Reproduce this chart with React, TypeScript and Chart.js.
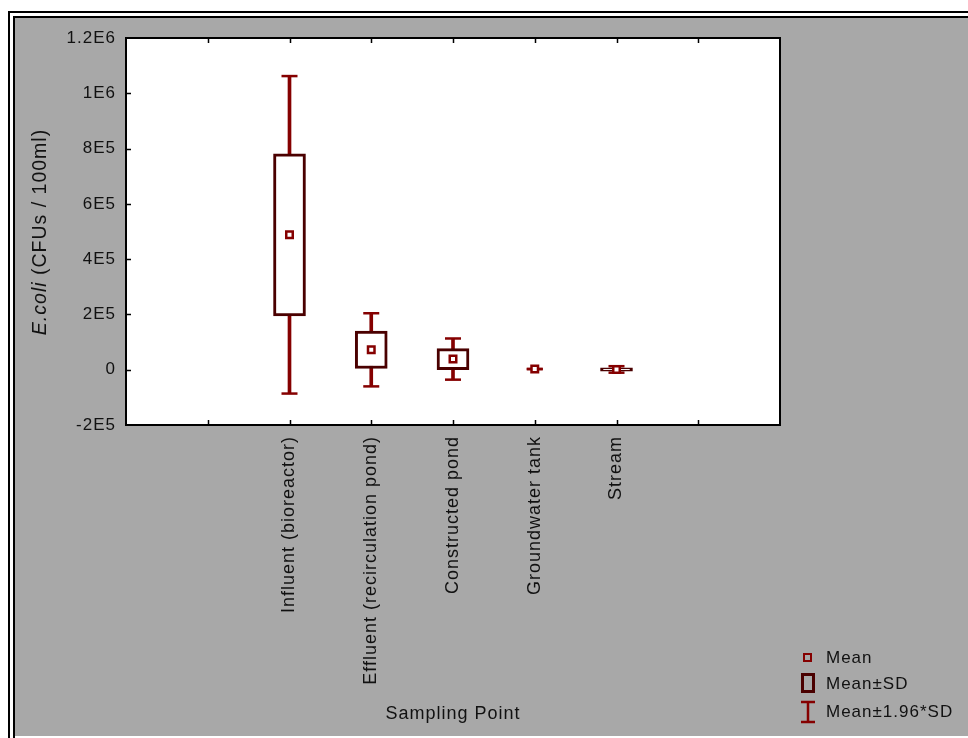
import { useEffect, useRef } from "react";
import { Chart, registerables } from "chart.js";

Chart.register(...registerables);

// Sampling sites along the treatment chain and their slot on the x axis
const sites = [
  "Influent (bioreactor)",
  "Effluent (recirculation pond)",
  "Constructed pond",
  "Groundwater tank",
  "Stream",
];
const sitePositions = [2, 3, 4, 5, 6];

// E. coli counts (CFUs / 100 ml): mean and standard deviation per site
const means = [488000, 72000, 38500, 2500, 1000];
const sds = [293000, 67500, 38000, 0, 6000];

const yTickLabels = ["-2E5", "0", "2E5", "4E5", "6E5", "8E5", "1E6", "1.2E6"];
const legendLabels = ["Mean", "Mean\u00b1SD", "Mean\u00b11.96*SD"];
const xTitle = "Sampling Point";
const yTitleItalic = "E.coli";
const yTitleRest = " (CFUs / 100ml)";

const FONT = "Arial, 'Liberation Sans', sans-serif";
const FONT_SIZE = 17;
const LABEL_SIZE = 18;
const Y_TITLE_SIZE = 19.5;
const SPACING = "1px";
const TEXT = "#111111";
const RED = "#850000";
const DARK = "#4a0000";
const PANEL = "#a8a8a8";

const meanPoints = sitePositions.map((x, i) => ({ x, y: means[i] }));
const sdBoxes = sitePositions.map((x, i) => ({ x, y: [means[i] - sds[i], means[i] + sds[i]] }));
const whiskers = sitePositions.map((x, i) => ({
  x,
  y: [means[i] - 1.96 * sds[i], means[i] + 1.96 * sds[i]],
}));
const caps = [
  ...sitePositions.map((x, i) => ({ x, y: means[i] + 1.96 * sds[i] })),
  ...sitePositions.map((x, i) => ({ x, y: means[i] - 1.96 * sds[i] })),
];

const spacingPlugin = {
  id: "letterSpacing",
  beforeUpdate(chart: any) {
    chart.ctx.letterSpacing = SPACING;
  },
  beforeDraw(chart: any) {
    chart.ctx.letterSpacing = SPACING;
  },
};

const framePlugin = {
  id: "statFrame",
  beforeDraw(chart: any) {
    const { ctx, width, height, chartArea } = chart;
    ctx.save();
    ctx.fillStyle = "#ffffff";
    ctx.fillRect(0, 0, width, height);
    // double outer border
    ctx.fillStyle = "#000000";
    ctx.fillRect(8, 11, width - 8, 2);
    ctx.fillRect(8, 11, 2, height - 11);
    ctx.fillRect(13, 16, width - 13, 2);
    ctx.fillRect(13, 16, 2, height - 16);
    // grey panel
    ctx.fillStyle = PANEL;
    ctx.fillRect(15, 18, width - 15, 718);
    // plot area
    ctx.fillStyle = "#ffffff";
    ctx.fillRect(chartArea.left, chartArea.top, chartArea.right - chartArea.left, chartArea.bottom - chartArea.top);
    ctx.restore();
  },
  afterDraw(chart: any) {
    const { ctx, chartArea } = chart;
    const xs = chart.scales.x;
    const ys = chart.scales.y;
    ctx.save();
    ctx.letterSpacing = SPACING;
    // plot frame
    ctx.strokeStyle = "#000000";
    ctx.lineWidth = 2;
    ctx.strokeRect(chartArea.left, chartArea.top, chartArea.right - chartArea.left, chartArea.bottom - chartArea.top);
    // inward tick marks
    ctx.lineWidth = 1.5;
    ctx.beginPath();
    for (let v = 1; v <= 7; v++) {
      const px = Math.round(xs.getPixelForValue(v)) + 0.5;
      ctx.moveTo(px, chartArea.bottom);
      ctx.lineTo(px, chartArea.bottom - 5);
      ctx.moveTo(px, chartArea.top);
      ctx.lineTo(px, chartArea.top + 5);
    }
    for (let k = 1; k < yTickLabels.length - 1; k++) {
      const py = Math.round(ys.getPixelForValue(-200000 + k * 200000)) + 0.5;
      ctx.moveTo(chartArea.left, py);
      ctx.lineTo(chartArea.left + 5, py);
    }
    ctx.stroke();

    // y axis title with italic organism name
    ctx.fillStyle = TEXT;
    ctx.textBaseline = "middle";
    ctx.textAlign = "left";
    const italic = `italic ${Y_TITLE_SIZE}px ${FONT}`;
    const titleFont = `${Y_TITLE_SIZE}px ${FONT}`;
    ctx.font = italic;
    const w1 = ctx.measureText(yTitleItalic).width;
    ctx.font = titleFont;
    const w2 = ctx.measureText(yTitleRest).width;
    ctx.save();
    ctx.translate(41, 232);
    ctx.rotate(-Math.PI / 2);
    const start = -(w1 + w2) / 2;
    ctx.font = italic;
    ctx.fillText(yTitleItalic, start, 0);
    ctx.font = titleFont;
    ctx.fillText(yTitleRest, start + w1, 0);
    ctx.restore();

    // legend
    ctx.strokeStyle = RED;
    ctx.lineWidth = 2;
    ctx.strokeRect(804, 654, 7, 7);
    ctx.strokeStyle = DARK;
    ctx.lineWidth = 3;
    ctx.strokeRect(802.5, 674.5, 11, 17);
    ctx.strokeStyle = RED;
    ctx.lineWidth = 2.5;
    ctx.beginPath();
    ctx.moveTo(808, 702);
    ctx.lineTo(808, 722);
    ctx.moveTo(801, 702);
    ctx.lineTo(815, 702);
    ctx.moveTo(801, 722);
    ctx.lineTo(815, 722);
    ctx.stroke();
    ctx.font = `${FONT_SIZE}px ${FONT}`;
    ctx.fillStyle = TEXT;
    const rows = [658, 684, 712];
    legendLabels.forEach((t, i) => ctx.fillText(t, 826, rows[i]));
    ctx.restore();
  },
};

export default function App() {
  const canvasRef = useRef<HTMLCanvasElement | null>(null);

  useEffect(() => {
    const canvas = canvasRef.current;
    if (!canvas) return;
    const font = { family: FONT, size: FONT_SIZE };
    const labelFont = { family: FONT, size: LABEL_SIZE };
    const chart = new Chart(canvas, {
      type: "bar",
      data: {
        datasets: [
          {
            type: "scatter",
            label: legendLabels[0],
            data: meanPoints,
            pointStyle: "rect",
            pointRadius: 4.6,
            pointBorderWidth: 2.5,
            pointBorderColor: RED,
            pointBackgroundColor: "#ffffff",
            order: 0,
          } as any,
          {
            type: "bar",
            label: legendLabels[1],
            data: sdBoxes,
            barThickness: 32,
            borderWidth: 3,
            borderColor: DARK,
            backgroundColor: "#ffffff",
            borderSkipped: false,
            grouped: false,
            order: 1,
          } as any,
          {
            type: "scatter",
            label: legendLabels[2],
            data: caps,
            pointStyle: "line",
            pointRadius: 8,
            pointBorderWidth: 2.5,
            pointBorderColor: RED,
            order: 2,
          } as any,
          {
            type: "bar",
            label: legendLabels[2],
            data: whiskers,
            barThickness: 3,
            borderWidth: 0,
            backgroundColor: RED,
            grouped: false,
            order: 3,
          } as any,
        ],
      },
      options: {
        animation: false,
        responsive: false,
        events: [],
        layout: { padding: { left: 0, top: 38, right: 188, bottom: 0 } },
        plugins: {
          legend: { display: false },
          tooltip: { enabled: false },
        },
        scales: {
          x: {
            type: "linear",
            min: 0,
            max: 8,
            offset: false,
            grid: { display: false, drawTicks: false, offset: false },
            border: { display: false },
            afterFit: (s: any) => {
              s.height = 313;
            },
            ticks: {
              stepSize: 1,
              autoSkip: false,
              minRotation: 90,
              maxRotation: 90,
              padding: 11,
              color: TEXT,
              font: labelFont,
              callback: (v: any) => {
                const i = sitePositions.indexOf(Number(v));
                return i >= 0 ? sites[i] : "";
              },
            },
            title: {
              display: true,
              text: xTitle,
              color: TEXT,
              font: labelFont,
              padding: { top: 0, bottom: 13 },
            },
          },
          y: {
            type: "linear",
            min: -200000,
            max: 1200000,
            grid: { display: false, drawTicks: false },
            border: { display: false },
            afterFit: (s: any) => {
              s.width = 126;
            },
            ticks: {
              stepSize: 200000,
              padding: 10,
              color: TEXT,
              font,
              callback: (v: any) => yTickLabels[Math.round((Number(v) + 200000) / 200000)],
            },
          },
        },
      } as any,
      plugins: [spacingPlugin, framePlugin],
    });
    return () => chart.destroy();
  }, []);

  return (
    <div style={{ position: "absolute", left: 0, top: 0, width: 968, height: 738 }}>
      <canvas ref={canvasRef} width={968} height={738} style={{ display: "block" }} />
    </div>
  );
}
